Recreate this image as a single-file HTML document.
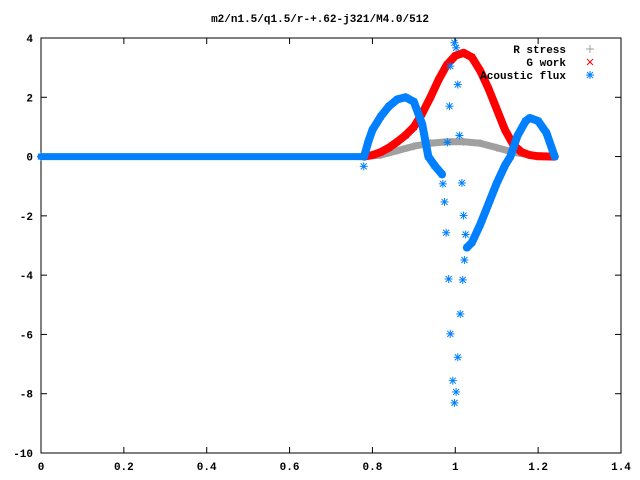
<!DOCTYPE html>
<html><head><meta charset="utf-8">
<style>
body{margin:0;background:#fff;}
svg{display:block;font-family:"Liberation Mono",monospace;font-size:11px;font-weight:bold;}
</style></head>
<body>
<svg id="chart" width="640" height="480" xmlns="http://www.w3.org/2000/svg">
<text x="320" y="22" text-anchor="middle">m2/n1.5/q1.5/r-+.62-j321/M4.0/512</text>
<g id="axes"></g>
<g id="series"></g>
<g id="legend"></g>
</svg>
<script>
const xTicks=[0,0.2,0.4,0.6,0.8,1,1.2,1.4];
const xTickLabels=["0","0.2","0.4","0.6","0.8","1","1.2","1.4"];
const yTicks=[4,2,0,-2,-4,-6,-8,-10];
const yTickLabels=["4","2","0","-2","-4","-6","-8","-10"];
const stressX=[0.78,0.82,0.86,0.90,0.94,0.98,1.02,1.06,1.10,1.14,1.18,1.24];
const stressY=[0,0.05,0.2,0.35,0.45,0.5,0.5,0.45,0.3,0.15,0.05,0];
const workX=[0.78,0.80,0.82,0.84,0.86,0.88,0.90,0.92,0.94,0.96,0.98,1.00,1.02,1.04,1.06,1.08,1.10,1.12,1.14,1.16,1.18,1.20,1.24];
const workY=[0,0.05,0.15,0.3,0.5,0.72,1.0,1.45,2.0,2.6,3.1,3.4,3.5,3.35,2.9,2.3,1.6,0.9,0.4,0.15,0.05,0.01,0];
const fluxFlatX=[0,0.78];
const fluxFlatY=[0,0];
const fluxSeg1X=[0.78,0.79,0.80,0.82,0.84,0.86,0.88,0.90,0.92,0.935,0.95,0.968];
const fluxSeg1Y=[0,0.5,0.9,1.35,1.7,1.93,2.0,1.85,1.1,0,-0.3,-0.6];
const fluxSeg2X=[1.028,1.04,1.06,1.08,1.10,1.12,1.133,1.15,1.17,1.18,1.20,1.22,1.24];
const fluxSeg2Y=[-3.07,-2.9,-2.3,-1.6,-0.9,-0.3,0,0.7,1.2,1.3,1.2,0.8,0];
const fluxScatterX=[0.779,0.970,0.974,0.978,0.984,0.988,0.994,0.998,1.002,1.006,1.012,1.018,1.022,1.025,1.020,1.016,1.010,0.981,0.986,1.006,0.988,0.998,1.002];
const fluxScatterY=[-0.33,-0.92,-1.53,-2.57,-4.13,-5.98,-7.56,-8.31,-7.94,-6.77,-5.31,-4.16,-3.49,-2.63,-1.99,-0.89,0.71,0.48,1.70,2.43,3.05,3.84,3.67];

const L=41,R=621,T=38,B=453,xmin=0,xmax=1.4,ymin=-10,ymax=4;
const sx=v=>L+(v-xmin)/(xmax-xmin)*(R-L);
const sy=v=>B-(v-ymin)/(ymax-ymin)*(B-T);
const NS="http://www.w3.org/2000/svg";
function mk(tag,parent,attrs){const e=document.createElementNS(NS,tag);for(const k in attrs)e.setAttribute(k,attrs[k]);parent.appendChild(e);return e;}
const axes=document.getElementById('axes');
const frame=mk('rect',axes,{x:L,y:T,width:R-L,height:B-T,fill:'none',stroke:'#000','stroke-width':1});


xTicks.forEach((v,i)=>{
  const x=sx(v);
  const t1=mk('line',axes,{x1:x,y1:B,x2:x,y2:B-6,stroke:'#000'});
  
  
  const t2=mk('line',axes,{x1:x,y1:T,x2:x,y2:T+6,stroke:'#000'});
  
  
  const tx=mk('text',axes,{x:x,y:470,'text-anchor':'middle'});tx.textContent=xTickLabels[i];
  
  
});
yTicks.forEach((v,i)=>{
  const y=sy(v);
  const t1=mk('line',axes,{x1:L,y1:y,x2:L+6,y2:y,stroke:'#000'});
  
  
  const t2=mk('line',axes,{x1:R,y1:y,x2:R-6,y2:y,stroke:'#000'});
  
  
  const tx=mk('text',axes,{x:33,y:y+4,'text-anchor':'end'});tx.textContent=yTickLabels[i];
  
  
});
const ser=document.getElementById('series');
function marker(g,type,x,y,color){
  const s=4;
  if(type==='plus'||type==='star'){mk('line',g,{x1:x-s,y1:y,x2:x+s,y2:y,stroke:color});mk('line',g,{x1:x,y1:y-s,x2:x,y2:y+s,stroke:color});}
  if(type==='cross'||type==='star'){mk('line',g,{x1:x-s+1,y1:y-s+1,x2:x+s-1,y2:y+s-1,stroke:color});mk('line',g,{x1:x-s+1,y1:y+s-1,x2:x+s-1,y2:y-s+1,stroke:color});}
}
function band(name,X,Y,color,w,type){
  const g=mk('g',ser,{});
  
  
  const pts=X.map((x,i)=>sx(x)+','+sy(Y[i])).join(' ');
  mk('polyline',g,{points:pts,fill:'none',stroke:color,'stroke-width':w,'stroke-linejoin':'round','stroke-linecap':'round'});
  X.forEach((x,i)=>marker(g,type,sx(x),sy(Y[i]),color));
}
band('r-stress-series',stressX,stressY,'#a0a0a0',7,'plus');
band('g-work-series',workX,workY,'#ff0000',8,'cross');
band('acoustic-flux-flat',fluxFlatX,fluxFlatY,'#0080ff',7,'star');
band('acoustic-flux-seg1',fluxSeg1X,fluxSeg1Y,'#0080ff',8,'star');
band('acoustic-flux-seg2',fluxSeg2X,fluxSeg2Y,'#0080ff',8,'star');
const sc=mk('g',ser,{});


fluxScatterX.forEach((x,i)=>marker(sc,'star',sx(x),sy(fluxScatterY[i]),'#0080ff'));
const lg=document.getElementById('legend');
[["R stress",'#a0a0a0','plus'],["G work",'#ff0000','cross'],["Acoustic flux",'#0080ff','star']].forEach((e,i)=>{
  const y=49+i*13;
  const g=mk('g',lg,{});
  
  
  const t=mk('text',g,{x:566,y:y+4,'text-anchor':'end'});t.textContent=e[0];
  marker(g,e[2],590,y,e[1]);
});
</script>
</body></html>
